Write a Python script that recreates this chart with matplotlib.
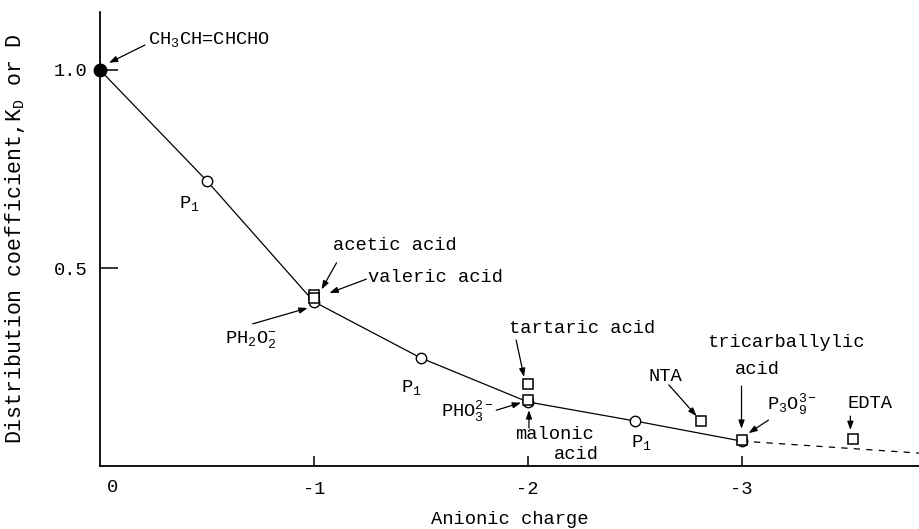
import matplotlib
matplotlib.use("Agg")
import matplotlib.pyplot as plt

plt.rcParams["font.family"] = ["Liberation Mono", "DejaVu Sans Mono"]
plt.rcParams["mathtext.fontset"] = "custom"
plt.rcParams["mathtext.rm"] = "Liberation Mono"
plt.rcParams["mathtext.it"] = "Liberation Mono"
plt.rcParams["mathtext.bf"] = "Liberation Mono"

# Reference aldehyde (uncharged)
ald_charge = [0.0]
ald_kd = [1.0]

# Phosphorus anions (open circles) and the fitted curve through them
p_charge = [-0.5, -1.0, -1.5, -2.0, -2.5, -3.0]
p_kd = [0.72, 0.415, 0.273, 0.162, 0.114, 0.063]

# Carboxylic acids / chelating agents (squares)
acid_names = ["acetic acid", "valeric acid", "tartaric acid", "malonic acid",
              "NTA", "tricarballylic acid", "EDTA"]
acid_charge = [-1.0, -1.0, -2.0, -2.0, -2.81, -3.0, -3.52]
acid_kd = [0.432, 0.425, 0.207, 0.167, 0.113, 0.066, 0.068]

# Extrapolated tail of the curve
ext_charge = [-3.0, -3.85]
ext_kd = [0.063, 0.032]

FS = 13.5

fig = plt.figure(figsize=(9.19, 5.29), dpi=100)
ax = fig.add_axes([0.1088, 0.119, 0.8912, 0.858])

curve_charge = ald_charge + p_charge
curve_kd = ald_kd + p_kd
ax.plot(curve_charge, curve_kd, color="black", lw=0.9, zorder=2)
ax.plot(ext_charge, ext_kd, color="black", lw=0.9, ls=(0, (5, 5)), zorder=2)

ax.plot(p_charge, p_kd, ls="none", marker="o", ms=7.5, mfc="white",
        mec="black", mew=1.0, zorder=3)
ax.plot(acid_charge, acid_kd, ls="none", marker="s", ms=6.5, mfc="white",
        mec="black", mew=1.1, zorder=4)
ax.plot(ald_charge, ald_kd, ls="none", marker="o", ms=9, mfc="black",
        mec="black", zorder=5, clip_on=False)

ax.set_xlim(0, -3.83)
ax.set_ylim(0, 1.146)

for side in ("top", "right"):
    ax.spines[side].set_visible(False)
for side in ("left", "bottom"):
    ax.spines[side].set_linewidth(1.3)

ax.set_xticks([-1, -2, -3])
ax.set_xticklabels(["-1", "-2", "-3"], fontsize=FS)
ax.set_yticks([0.5, 1.0])
ax.set_yticklabels(["0.5", "1.0"], fontsize=FS)
ax.tick_params(axis="x", direction="in", length=7, width=1.1, pad=11)
ax.tick_params(axis="y", direction="in", length=13, width=1.1, pad=9)
ax.text(-0.06, -0.055, "0", fontsize=FS, ha="center", va="center",
        clip_on=False)

ax.set_xlabel("Anionic charge", fontsize=FS, labelpad=9)
ax.set_ylabel("Distribution coefficient,K$_D$ or D", fontsize=15.5,
              labelpad=19)

arrow = dict(arrowstyle="-|>,head_length=0.5,head_width=0.18", color="black",
             lw=0.9, shrinkA=0, shrinkB=0)


def note(start, end):
    ax.annotate("", xy=end, xytext=start, arrowprops=arrow)


def label(x, y, s, ha="center"):
    ax.text(x, y, s, fontsize=FS, ha=ha, va="center")


label(-0.224, 1.076, "CH$_3$CH=CHCHO", ha="left")
note((-0.210, 1.063), (-0.042, 1.018))

label(-0.42, 0.662, "P$_1$")
label(-1.377, 0.558, "acetic acid")
note((-1.106, 0.513), (-1.036, 0.446))
label(-1.568, 0.477, "valeric acid")
note((-1.246, 0.472), (-1.073, 0.437))
label(-0.705, 0.320, "PH$_2$O$_2^{-}$")
note((-0.714, 0.359), (-0.971, 0.399))

label(-1.456, 0.199, "P$_1$")
label(-2.254, 0.348, "tartaric acid")
note((-1.946, 0.318), (-1.983, 0.225))
label(-1.717, 0.138, "PHO$_3^{2-}$")
note((-1.853, 0.141), (-1.969, 0.160))
label(-2.123, 0.080, "malonic")
label(-2.23, 0.030, "acid")
note((-2.006, 0.096), (-2.006, 0.141))

label(-2.534, 0.060, "P$_1$")
label(-2.646, 0.225, "NTA")
note((-2.660, 0.205), (-2.79, 0.126))
label(-3.206, 0.311, "tricarballylic")
label(-3.075, 0.245, "acid")
note((-3.0, 0.202), (-3.0, 0.094))
label(-3.234, 0.156, "P$_3$O$_9^{3-}$")
note((-3.126, 0.116), (-3.033, 0.083))
label(-3.60, 0.157, "EDTA")
note((-3.509, 0.126), (-3.509, 0.091))

fig.savefig("out.png", dpi=100)
